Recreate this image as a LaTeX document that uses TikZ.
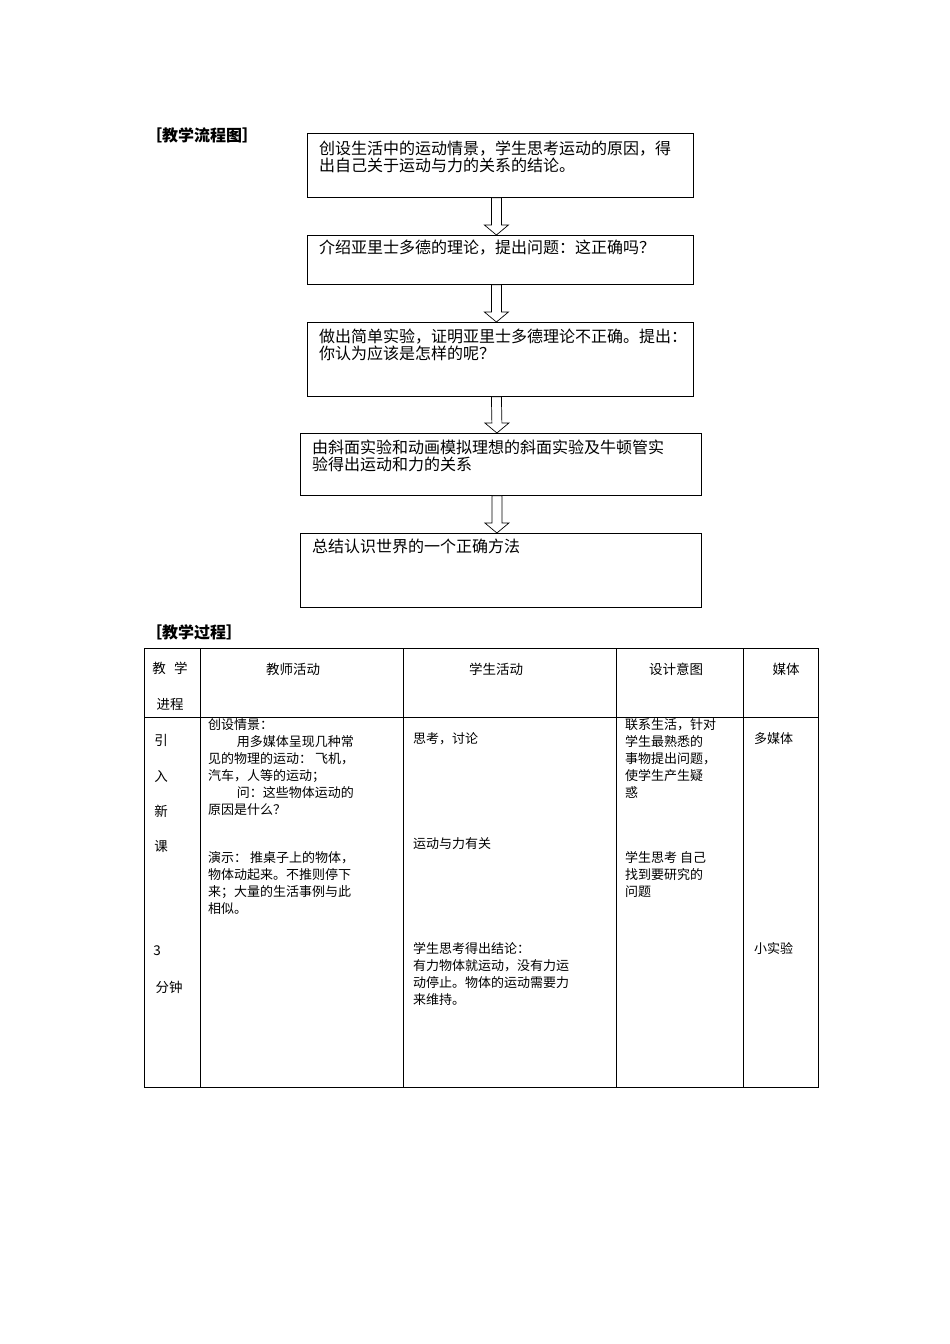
\documentclass[tikz,border=0pt]{standalone}
\usepackage{fontspec}
\usetikzlibrary{calc}
\setmainfont{Noto Sans CJK SC}
\begin{document}
\begin{tikzpicture}[x=1pt,y=-1pt,
  txt/.style={anchor=north west,inner sep=0pt,align=left,font=\fontsize{13}{17}\selectfont},
  ftxt/.style={anchor=north west,inner sep=0pt,align=left,font=\fontsize{16}{17}\selectfont},
  hdr/.style={inner sep=0pt,font=\fontsize{13.5}{17}\selectfont},
  flow/.style={draw,line width=0.8pt},
  darr/.style={draw,fill=white,line width=0.7pt}]
\fill[white] (0,0) rectangle (950,1344);
\useasboundingbox (0,0) rectangle (950,1344);
\node[txt,font=\fontsize{16}{17}\selectfont\bfseries] (title1) at (146,127) {［教学流程图］};
% flow boxes
\node[flow,minimum width=386,minimum height=64,anchor=north west] (b1) at (307,133) {};
\node[flow,minimum width=386,minimum height=49,anchor=north west] (b2) at (307,235) {};
\node[flow,minimum width=386,minimum height=74,anchor=north west] (b3) at (307,322) {};
\node[flow,minimum width=401,minimum height=62,anchor=north west] (b4) at (300,433) {};
\node[flow,minimum width=401,minimum height=74,anchor=north west] (b5) at (300,533) {};
\node[ftxt] (t1) at (319,141) {创设生活中的运动情景，学生思考运动的原因，得\\出自己关于运动与力的关系的结论。};
\node[ftxt] (t2) at (319,240) {介绍亚里士多德的理论，提出问题：这正确吗？};
\node[ftxt] (t3) at (319,329) {做出简单实验，证明亚里士多德理论不正确。提出：\\你认为应该是怎样的呢？};
\node[ftxt] (t4) at (312,440) {由斜面实验和动画模拟理想的斜面实验及牛顿管实\\验得出运动和力的关系};
\node[ftxt] (t5) at (312,539) {总结认识世界的一个正确方法};
% hollow arrows
\foreach \a/\b [count=\i] in {b1/b2,b2/b3,b3/b4,b4/b5}{
  \path ($(\a.south)+(-4,0)$) coordinate (s\i);
  \path ($(\b.north)+(-4,0)$) coordinate (e\i);
  \draw[darr] ($(s\i)+(-5,0)$) -- ($(s\i)+(5,0)$) -- ($(e\i)+(5,-10)$) -- ($(e\i)+(12,-10)$) -- (e\i) -- ($(e\i)+(-12,-10)$) -- ($(e\i)+(-5,-10)$) -- cycle;
}
\node[txt,font=\fontsize{16}{17}\selectfont\bfseries] (title2) at (146,624) {［教学过程］};
% table
\draw[line width=0.8pt] (144,648) rectangle (818,1087);
\draw[line width=0.8pt] (144,717) -- (818,717);
\foreach \xx in {200,403,616,743} \draw[line width=0.8pt] (\xx,648) -- (\xx,1087);
\node[hdr] (h1a) at (170,668) {教\hspace{0.6em}学};
\node[hdr] (h1b) at (170,704) {进程};
\node[hdr] (h2) at (293,669) {教师活动};
\node[hdr] (h3) at (496,669) {学生活动};
\node[hdr] (h4) at (676,669) {设计意图};
\node[hdr] (h5) at (786,669) {媒体};
\node[hdr] (c1) at (161,740) {引};
\node[hdr] (c2) at (161,776) {入};
\node[hdr] (c3) at (161,811) {新};
\node[hdr] (c4) at (161,846) {课};
\node[hdr] (c5) at (157,951) {3};
\node[hdr] (c6) at (169,987) {分钟};
\node[txt] (tc1) at (208,718) {创设情景：\\\hspace{2.2em}用多媒体呈现几种常\\见的物理的运动：\ 飞机，\\汽车，人等的运动；\\\hspace{2.2em}问：这些物体运动的\\原因是什么？};
\node[txt] (tc2) at (208,851) {演示：\ 推桌子上的物体，\\物体动起来。不推则停下\\来；大量的生活事例与此\\相似。};
\node[txt] (sc1) at (413,732) {思考，讨论};
\node[txt] (sc2) at (413,837) {运动与力有关};
\node[txt] (sc3) at (413,942) {学生思考得出结论：\\有力物体就运动，没有力运\\动停止。物体的运动需要力\\来维持。};
\node[txt] (dc1) at (625,718) {联系生活，针对\\学生最熟悉的\\事物提出问题，\\使学生产生疑\\惑};
\node[txt] (dc2) at (625,851) {学生思考\ 自己\\找到要研究的\\问题};
\node[txt] (m1) at (754,732) {多媒体};
\node[txt] (m2) at (754,942) {小实验};
\end{tikzpicture}
\end{document}
